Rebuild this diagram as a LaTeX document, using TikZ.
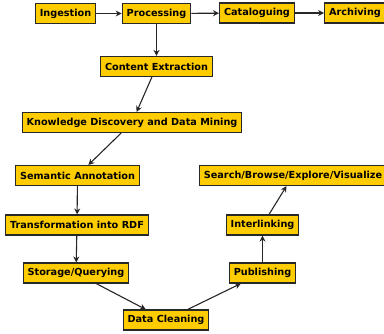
\documentclass[tikz,border=0pt]{standalone}
\usepackage{fontspec}
\setmainfont{DejaVu Sans}
\usepackage{tikz}
\usetikzlibrary{arrows.meta}
\definecolor{boxfill}{RGB}{255, 204, 0}
\definecolor{boxline}{RGB}{40, 40, 40}

\begin{document}
\begin{tikzpicture}[x=1pt,y=-1pt,
    stage/.style={draw=boxline, line width=1.1pt, fill=boxfill, font=\fontsize{9.7}{11}\selectfont\bfseries,
        inner xsep=4.5pt, inner ysep=0pt, minimum height=20pt},
    flow/.style={-{Stealth[length=6pt,width=6pt]}, line width=1.1pt, black!85}]
    \useasboundingbox (0,0) rectangle (384,333);
    % top row
    \node[stage] (ingest) at (65.5,13.5) {Ingestion};
    \node[stage] (proc) at (156.5,13.5) {Processing};
    \node[stage] (catal) at (257,13) {Cataloguing};
    \node[stage] (archiv) at (355,13) {Archiving};
    \node[stage] (extract) at (156.5,66.5) {Content Extraction};
    \node[stage] (kddm) at (132,122.5) {Knowledge Discovery and Data Mining};
    % left column
    \node[stage] (annot) at (77.5,175.5) {Semantic Annotation};
    \node[stage] (rdf) at (77,225) {Transformation into RDF};
    \node[stage] (store) at (76,273) {Storage/Querying};
    \node[stage] (clean) at (166,320) {Data Cleaning};
    % right column
    \node[stage] (publish) at (262.5,273) {Publishing};
    \node[stage] (link) at (262.5,225) {Interlinking};
    \node[stage] (search) at (293,175.5) {Search/Browse/Explore/Visualize};

    \draw[flow] (ingest) -- (proc);
    \draw[flow] (proc) -- (catal);
    \draw[flow] (catal) -- (archiv);
    \draw[flow] (proc) -- (extract);
    \draw[flow] (extract) -- (kddm);
    \draw[flow] (kddm) -- (annot);
    \draw[flow] (annot) -- (rdf);
    \draw[flow] (rdf) -- (store);
    \draw[flow] (store) -- (clean);
    \draw[flow] (clean) -- (publish);
    \draw[flow] (publish) -- (link);
    \draw[flow] (link) -- (search);
\end{tikzpicture}
\end{document}
